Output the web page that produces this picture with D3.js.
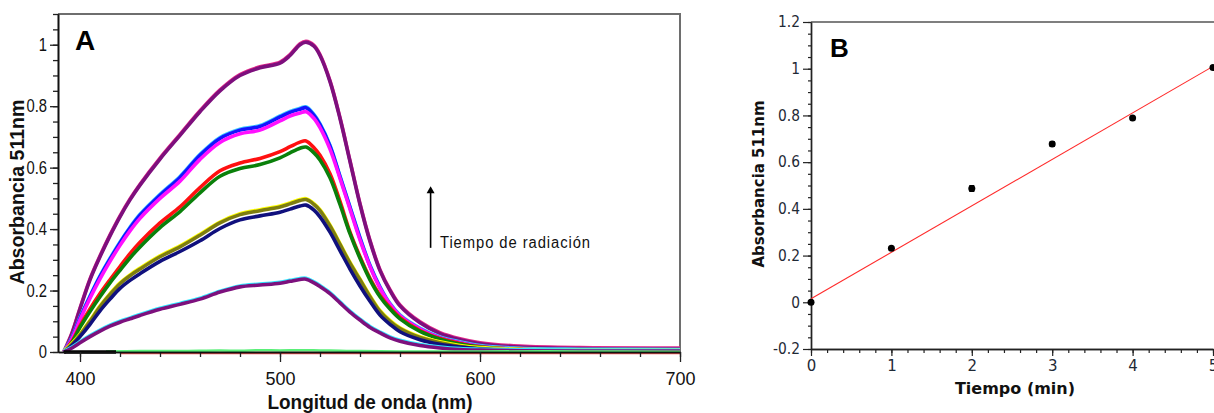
<!DOCTYPE html>
<html>
<head>
<meta charset="utf-8">
<script src="https://cdn.jsdelivr.net/npm/d3@7"></script>
<style>
  body { margin: 0; background: #fff; }
  svg { display: block; }
  .lib { font-family: "Liberation Sans", Arial, sans-serif; }
  .tahoma { font-family: "DejaVu Sans", Verdana, sans-serif; }
</style>
</head>
<body>
<script>
// ---- panel A: espectros (nm vs absorbancia)
var wavelengths = [392, 396, 400, 405, 410, 415, 420, 425, 430, 440, 450, 460, 470, 480, 490, 500, 505, 510, 513, 517,
                   520, 525, 530, 535, 540, 545, 550, 555, 560, 570, 580, 590, 600, 620, 650, 700];

var specPurpleTop = [0, 0.06, 0.14, 0.235, 0.31, 0.378, 0.44, 0.495, 0.543, 0.628, 0.705, 0.782, 0.85, 0.9, 0.925, 0.94, 0.965, 1.0, 1.008, 0.995,
                     0.965, 0.88, 0.76, 0.62, 0.48, 0.36, 0.265, 0.2, 0.15, 0.095, 0.06, 0.04, 0.027, 0.016, 0.011, 0.01];
var specBlue = [0, 0.045, 0.11, 0.18, 0.245, 0.302, 0.355, 0.403, 0.445, 0.51, 0.568, 0.64, 0.695, 0.722, 0.734, 0.765, 0.78, 0.79, 0.795, 0.77,
                0.74, 0.67, 0.57, 0.47, 0.37, 0.28, 0.21, 0.155, 0.118, 0.075, 0.046, 0.03, 0.018, 0.009, 0.006, 0.005];
var specMagenta = [0, 0.043, 0.105, 0.175, 0.238, 0.295, 0.347, 0.394, 0.435, 0.50, 0.556, 0.627, 0.682, 0.71, 0.722, 0.752, 0.768, 0.778, 0.782, 0.76,
                   0.73, 0.66, 0.565, 0.465, 0.365, 0.278, 0.208, 0.155, 0.118, 0.075, 0.046, 0.03, 0.018, 0.009, 0.006, 0.005];
var specRed = [0, 0.035, 0.085, 0.14, 0.19, 0.235, 0.278, 0.32, 0.357, 0.42, 0.472, 0.535, 0.59, 0.615, 0.63, 0.652, 0.668, 0.683, 0.687, 0.665,
               0.64, 0.58, 0.49, 0.39, 0.31, 0.24, 0.185, 0.145, 0.112, 0.07, 0.044, 0.028, 0.017, 0.008, 0.005, 0.004];
var specGreen = [0, 0.032, 0.08, 0.132, 0.18, 0.225, 0.266, 0.306, 0.342, 0.405, 0.457, 0.518, 0.572, 0.597, 0.61, 0.632, 0.648, 0.663, 0.667, 0.648,
                 0.625, 0.567, 0.48, 0.385, 0.305, 0.235, 0.18, 0.14, 0.108, 0.067, 0.042, 0.026, 0.016, 0.008, 0.005, 0.004];
var specOlive = [0, 0.025, 0.055, 0.1, 0.147, 0.187, 0.222, 0.248, 0.27, 0.31, 0.342, 0.38, 0.42, 0.447, 0.46, 0.472, 0.482, 0.493, 0.496, 0.48,
                 0.46, 0.41, 0.35, 0.289, 0.235, 0.18, 0.132, 0.1, 0.076, 0.047, 0.03, 0.018, 0.011, 0.006, 0.004, 0.004];
var specNavy = [0, 0.022, 0.05, 0.09, 0.134, 0.172, 0.207, 0.233, 0.255, 0.295, 0.327, 0.362, 0.402, 0.43, 0.443, 0.455, 0.465, 0.475, 0.478, 0.462,
                0.44, 0.39, 0.33, 0.27, 0.215, 0.165, 0.12, 0.09, 0.066, 0.04, 0.025, 0.016, 0.01, 0.005, 0.004, 0.003];
var specPurpleLow = [0, 0.013, 0.03, 0.05, 0.068, 0.084, 0.097, 0.108, 0.119, 0.139, 0.155, 0.172, 0.195, 0.212, 0.218, 0.224, 0.23, 0.236, 0.237, 0.225,
                     0.213, 0.19, 0.16, 0.13, 0.104, 0.08, 0.062, 0.046, 0.035, 0.021, 0.013, 0.008, 0.006, 0.004, 0.003, 0.003];

// espectros a tiempo 0 (casi en cero)
var baseBlackWl = [392, 418];
var baseBlack = [0, 0];
var baseRedWl = [420, 700];
var baseRed = [-0.003, -0.003];
var baseGreenWl = [413, 430, 450, 470, 480, 490, 500, 510, 520, 530, 540, 560, 600, 650, 700];
var baseGreen = [0.002, 0.003, 0.003, 0.005, 0.004, 0.006, 0.005, 0.006, 0.005, 0.004, 0.003, 0.002, 0.002, 0.002, 0.001];

var xTicksA = [400, 500, 600, 700];
var yTicksA = [0, 0.2, 0.4, 0.6, 0.8, 1];

// ---- panel B: absorbancia a 511 nm vs tiempo
var timeMin = [0, 1, 2, 3, 4, 5];
var abs511 = [0, 0.231, 0.487, 0.678, 0.789, 1.005];
var abs511Err = [0.004, 0.006, 0.012, 0.01, 0.007, 0.006];
var fitX = [0, 5];
var fitY = [0.015, 1.01];
var xTicksB = [0, 1, 2, 3, 4, 5];
var yTicksB = [-0.2, 0, 0.2, 0.4, 0.6, 0.8, 1, 1.2];

var width = 1214, height = 413;

var svg = d3.select("body").append("svg")
    .attr("width", width)
    .attr("height", height);

// comprime el texto horizontalmente (letra tipo "narrow")
function condense(sel, k) {
    sel.each(function() {
        var w = this.getComputedTextLength();
        d3.select(this).attr("textLength", w * k).attr("lengthAdjust", "spacingAndGlyphs");
    });
}

// ============ Panel A ============
var xA = d3.scaleLinear().domain([389, 700]).range([58, 680]);
var yA = d3.scaleLinear().domain([0, 1.1]).range([352, 14]);

var gA = svg.append("g");

// marco gris arriba/derecha
gA.append("path")
    .attr("d", "M" + xA(389) + "," + yA(1.1) + "H" + xA(700) + "V" + yA(0))
    .attr("fill", "none").attr("stroke", "#6e6e6e").attr("stroke-width", 2);

var lineA = d3.line()
    .x(function(d) { return xA(d[0]); })
    .y(function(d) { return yA(d[1]); })
    .curve(d3.curveCatmullRom.alpha(0.5));

function zipA(wl, vals) {
    return wl.map(function(w, i) { return [w, vals[i]]; });
}

// orden de dibujo como en la figura
var curves = [
    { vals: specPurpleTop, color: "#7d0f7d", halo: "#e0288a" },
    { vals: specBlue, color: "#1414ff", halo: "#3cc8ff" },
    { vals: specMagenta, color: "#ff10ff", halo: null },
    { vals: specRed, color: "#ff1010", halo: null },
    { vals: specGreen, color: "#0a800a", halo: null },
    { vals: specOlive, color: "#7d7d10", halo: "#ffff00" },
    { vals: specNavy, color: "#10107d", halo: null },
    { vals: specPurpleLow, color: "#7d107d", halo: "#30e8ff" }
];

curves.forEach(function(c) {
    var pts = zipA(wavelengths, c.vals);
    if (c.halo) {
        gA.append("path").datum(pts)
            .attr("d", lineA)
            .attr("transform", "translate(0,-1)")
            .attr("fill", "none").attr("stroke", c.halo)
            .attr("stroke-width", 3.5).attr("stroke-linejoin", "round");
    }
    gA.append("path").datum(pts)
        .attr("d", lineA)
        .attr("fill", "none").attr("stroke", c.color)
        .attr("stroke-width", 3.6).attr("stroke-linejoin", "round");
});

// líneas base (t = 0)
gA.append("path").datum(zipA(baseRedWl, baseRed))
    .attr("d", lineA).attr("fill", "none").attr("stroke", "#f25050").attr("stroke-width", 2.5);
gA.append("path").datum(zipA(baseGreenWl, baseGreen))
    .attr("d", lineA).attr("fill", "none").attr("stroke", "#5aef78").attr("stroke-width", 2.5);
gA.append("path").datum(zipA(baseBlackWl, baseBlack))
    .attr("d", lineA).attr("fill", "none").attr("stroke", "#000").attr("stroke-width", 3.5);

// ejes A
var yAxisAMinor = d3.axisLeft(yA).tickValues(d3.range(0, 1.101, 0.05)).tickSize(5).tickFormat("").tickSizeOuter(0);
var yAxisA = d3.axisLeft(yA).tickValues(yTicksA).tickSize(8).tickPadding(3).tickSizeOuter(0)
    .tickFormat(function(d) { return String(d); });
var xAxisAMinor = d3.axisBottom(xA).tickValues(d3.range(400, 701, 20)).tickSize(5).tickFormat("").tickSizeOuter(0);
var xAxisA = d3.axisBottom(xA).tickValues(xTicksA).tickSize(10).tickPadding(10).tickSizeOuter(0);

gA.append("g").attr("transform", "translate(58,0)").call(yAxisAMinor);
gA.append("g").attr("class", "lib").attr("transform", "translate(58,0)").call(yAxisA)
    .selectAll("text").attr("font-size", 18).attr("fill", "#111").call(condense, 0.82);
gA.append("g").attr("class", "lib").attr("transform", "translate(0,352)").call(xAxisAMinor);
gA.append("g").attr("class", "lib").attr("transform", "translate(0,352)").call(xAxisA)
    .selectAll("text").attr("font-size", 18).attr("fill", "#111");

gA.selectAll(".domain").attr("stroke", "#111").attr("stroke-width", 1.6);
gA.selectAll(".tick line").attr("stroke", "#222").attr("stroke-width", 1.3);

gA.append("text").attr("class", "lib")
    .attr("x", 370).attr("y", 409)
    .attr("text-anchor", "middle").attr("font-weight", "bold").attr("font-size", 21)
    .attr("textLength", 205).attr("lengthAdjust", "spacingAndGlyphs")
    .attr("fill", "#111")
    .text("Longitud de onda (nm)");

gA.append("text").attr("class", "lib")
    .attr("transform", "translate(24,192) rotate(-90)")
    .attr("text-anchor", "middle").attr("font-weight", "bold").attr("font-size", 21)
    .attr("textLength", 185).attr("lengthAdjust", "spacingAndGlyphs")
    .attr("fill", "#111")
    .text("Absorbancia 511nm");

gA.append("text")
    .attr("x", 75).attr("y", 50)
    .attr("class", "lib")
    .attr("font-weight", "bold").attr("font-size", 28)
    .text("A");

// flecha "Tiempo de radiación"
var arrowX = xA(575.3);
gA.append("line")
    .attr("x1", arrowX).attr("x2", arrowX)
    .attr("y1", yA(0.339)).attr("y2", yA(0.52))
    .attr("stroke", "#000").attr("stroke-width", 1.6);
gA.append("path")
    .attr("d", "M" + (arrowX - 4) + "," + (yA(0.52) + 1) + "L" + arrowX + "," + (yA(0.52) - 6) + "L" + (arrowX + 4) + "," + (yA(0.52) + 1) + "Z")
    .attr("fill", "#000");
gA.append("text").attr("class", "lib")
    .attr("x", xA(580)).attr("y", yA(0.339))
    .attr("font-size", 16).attr("fill", "#111")
    .attr("textLength", 151).attr("lengthAdjust", "spacingAndGlyphs")
    .attr("letter-spacing", 1)
    .text("Tiempo de radiación");

// ============ Panel B ============
var xB = d3.scaleLinear().domain([0, 5]).range([811, 1213]);
var yB = d3.scaleLinear().domain([-0.2, 1.2]).range([349, 22]);

var gB = svg.append("g");

gB.append("line")
    .attr("x1", xB(0)).attr("x2", width)
    .attr("y1", yB(1.2)).attr("y2", yB(1.2))
    .attr("stroke", "#555").attr("stroke-width", 1.5);

var yAxisBMinor = d3.axisLeft(yB).tickValues(d3.range(-0.2, 1.201, 0.05)).tickSize(3).tickFormat("").tickSizeOuter(0);
var yAxisB = d3.axisLeft(yB).tickValues(yTicksB).tickSize(8).tickPadding(3).tickSizeOuter(0)
    .tickFormat(function(d) { return String(d); });
var xAxisBMinor = d3.axisBottom(xB).tickValues(d3.range(0, 5.01, 0.2)).tickSize(4).tickFormat("").tickSizeOuter(0);
var xAxisB = d3.axisBottom(xB).tickValues(xTicksB).tickSize(7).tickPadding(4).tickSizeOuter(0)
    .tickFormat(function(d) { return String(d); });

gB.append("g").attr("transform", "translate(811,0)").call(yAxisBMinor);
gB.append("g").attr("class", "tahoma").attr("transform", "translate(811,0)").call(yAxisB)
    .selectAll("text").attr("font-size", 15).attr("fill", "#1f2a36").call(condense, 0.92);
gB.append("g").attr("transform", "translate(0,349)").call(xAxisBMinor);
gB.append("g").attr("class", "tahoma").attr("transform", "translate(0,349)").call(xAxisB)
    .selectAll("text").attr("font-size", 15).attr("fill", "#1f2a36");

gB.selectAll(".domain").attr("stroke", "#222").attr("stroke-width", 1.4);
gB.selectAll(".tick line").attr("stroke", "#222").attr("stroke-width", 1.2);

// recta de ajuste
gB.append("line")
    .attr("x1", xB(fitX[0])).attr("y1", yB(fitY[0]))
    .attr("x2", xB(fitX[1])).attr("y2", yB(fitY[1]))
    .attr("stroke", "#ff2a2a").attr("stroke-width", 1.1);

// barras de error + puntos
var ptsB = timeMin.map(function(t, i) { return { t: t, a: abs511[i], e: abs511Err[i] }; });

gB.selectAll(".err").data(ptsB).enter().append("path")
    .attr("class", "err")
    .attr("d", function(d) {
        var x = xB(d.t), y1 = yB(d.a + d.e), y2 = yB(d.a - d.e);
        return "M" + (x - 2.5) + "," + y1 + "H" + (x + 2.5) + "M" + x + "," + y1 + "V" + y2 + "M" + (x - 2.5) + "," + y2 + "H" + (x + 2.5);
    })
    .attr("stroke", "#000").attr("stroke-width", 1.4).attr("fill", "none");

gB.selectAll(".pt").data(ptsB).enter().append("circle")
    .attr("class", "pt")
    .attr("cx", function(d) { return xB(d.t); })
    .attr("cy", function(d) { return yB(d.a); })
    .attr("r", 3.5)
    .attr("fill", "#000");

gB.append("text").attr("class", "tahoma")
    .attr("x", 1015).attr("y", 394)
    .attr("text-anchor", "middle").attr("font-weight", "bold").attr("font-size", 16)
    .attr("fill", "#111")
    .text("Tiempo (min)");

gB.append("text").attr("class", "tahoma")
    .attr("transform", "translate(764,184) rotate(-90)")
    .attr("text-anchor", "middle").attr("font-weight", "bold").attr("font-size", 15)
    .attr("textLength", 167).attr("lengthAdjust", "spacingAndGlyphs")
    .attr("fill", "#111")
    .text("Absorbancia 511nm");

gB.append("text")
    .attr("x", 830).attr("y", 57)
    .attr("class", "lib")
    .attr("font-weight", "bold").attr("font-size", 26)
    .text("B");
</script>
</body>
</html>
